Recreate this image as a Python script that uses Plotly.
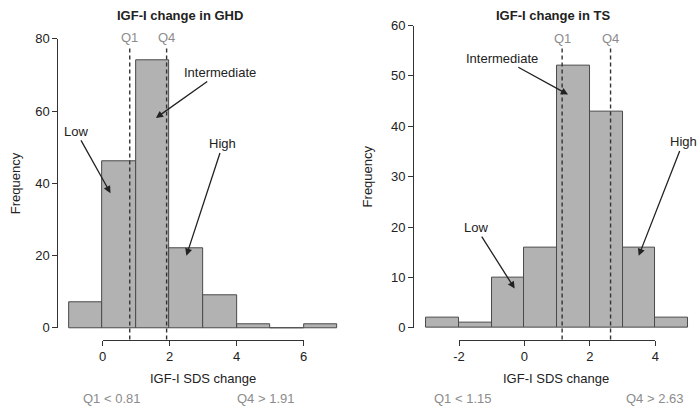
import plotly.graph_objects as go

# histogram data
ghd_edges = [-1, 0, 1, 2, 3, 4, 5, 6, 7]
ghd_counts = [7, 46, 74, 22, 9, 1, 0, 1]
ghd_q1, ghd_q4 = 0.81, 1.91

ts_edges = [-3, -2, -1, 0, 1, 2, 3, 4, 5]
ts_counts = [2, 1, 10, 16, 52, 43, 16, 2]
ts_q1, ts_q4 = 1.15, 2.63

ghd_xticks = [0, 2, 4, 6]
ghd_yticks = [0, 20, 40, 60, 80]
ts_xticks = [-2, 0, 2, 4]
ts_yticks = [0, 10, 20, 30, 40, 50, 60]

W, H = 700, 414
FONT = "Arial, Liberation Sans, Helvetica, sans-serif"
BAR_FILL = "#b2b2b2"
BAR_LINE = "#4a4a4a"
GREY_TXT = "#8c8c8c"


def pxx(p):
    return p / W


def pxy(p):
    return 1 - p / H


def centers(edges):
    return [(a + b) / 2 for a, b in zip(edges[:-1], edges[1:])]


fig = go.Figure()

fig.add_trace(go.Bar(x=centers(ghd_edges), y=ghd_counts, width=1,
                     marker=dict(color=BAR_FILL, line=dict(color=BAR_LINE, width=1)),
                     xaxis="x", yaxis="y", hoverinfo="skip"))
fig.add_trace(go.Bar(x=centers(ts_edges), y=ts_counts, width=1,
                     marker=dict(color=BAR_FILL, line=dict(color=BAR_LINE, width=1)),
                     xaxis="x2", yaxis="y2", hoverinfo="skip"))
# empty traces so the R-style detached axes get drawn
for xa, ya in [("x3", "y3"), ("x4", "y4")]:
    fig.add_trace(go.Scatter(x=[], y=[], xaxis=xa, yaxis=ya))

# pixel scales of the two panels
L0, LS, LY0, LYS = 98, 34, 333, 3.75     # left: x=0 at px 98, 34 px/unit; y=0 at px 333
R0, RS, RY0, RYS = 526, 33.2, 333, 5.23

hidden = dict(visible=False, showgrid=False, zeroline=False, fixedrange=True)
deco = dict(showline=True, linecolor="#333", linewidth=1, ticks="outside", ticklen=5,
            tickcolor="#333", showgrid=False, zeroline=False, anchor="free",
            tickfont=dict(family=FONT, size=13, color="#222"))


def tick_text(vals):
    # R prints a plain hyphen for negatives
    return [str(v) for v in vals]


fig.update_layout(
    width=W, height=H, margin=dict(l=0, r=0, t=0, b=0),
    paper_bgcolor="white", plot_bgcolor="rgba(0,0,0,0)", showlegend=False, bargap=0,
    xaxis=dict(hidden, domain=[pxx(60), pxx(340)],
               range=[(60 - L0) / LS, (340 - L0) / LS]),
    yaxis=dict(hidden, domain=[pxy(350), pxy(20)],
               range=[-(350 - LY0) / LYS, (LY0 - 20) / LYS]),
    xaxis2=dict(hidden, domain=[pxx(418), pxx(698)],
                range=[(418 - R0) / RS, (698 - R0) / RS]),
    yaxis2=dict(hidden, domain=[pxy(350), pxy(10)],
                range=[-(350 - RY0) / RYS, (RY0 - 10) / RYS]),
    xaxis3=dict(deco, domain=[pxx(L0), pxx(L0 + 6 * LS)], range=[0, 6],
                tickvals=ghd_xticks, ticktext=tick_text(ghd_xticks), position=pxy(345)),
    yaxis3=dict(deco, domain=[pxy(LY0), pxy(LY0 - 80 * LYS)], range=[0, 80],
                tickvals=ghd_yticks, ticktext=tick_text(ghd_yticks), position=pxx(52)),
    xaxis4=dict(deco, domain=[pxx(R0 - 2 * RS), pxx(R0 + 4 * RS)], range=[-2, 4],
                tickvals=ts_xticks, ticktext=tick_text(ts_xticks), position=pxy(345)),
    yaxis4=dict(deco, domain=[pxy(RY0), pxy(RY0 - 60 * RYS)], range=[0, 60],
                tickvals=ts_yticks, ticktext=tick_text(ts_yticks), position=pxx(413)),
)

# quartile dashed lines and labels
for xr, yr, q, lo, hi in [("x", "y", ghd_q1, -3.2, 77.3),
                          ("x", "y", ghd_q4, -3.2, 77.3),
                          ("x2", "y2", ts_q1, -2.3, 55.6),
                          ("x2", "y2", ts_q4, -2.3, 55.6)]:
    fig.add_shape(type="line", xref=xr, yref=yr, x0=q, x1=q, y0=lo, y1=hi,
                  line=dict(color="#333", width=1.4, dash="4px,3px"))
for xr, yr, q, name, lab_y in [("x", "y", ghd_q1, "Q1", 80.3), ("x", "y", ghd_q4, "Q4", 80.3),
                               ("x2", "y2", ts_q1, "Q1", 57.4), ("x2", "y2", ts_q4, "Q4", 57.4)]:
    fig.add_annotation(xref=xr, yref=yr, x=q, y=lab_y, text=name, showarrow=False,
                       font=dict(family=FONT, size=13, color=GREY_TXT))

# arrows with labels (text at tail, head at target)
arrows = [
    ("x", "y", "Low", -0.794, 54.4, 0.235, 37.3),
    ("x", "y", "Intermediate", 3.5, 70.7, 1.59, 58.1),
    ("x", "y", "High", 3.59, 50.9, 2.5, 20.0),
    ("x2", "y2", "Intermediate", -0.69, 53.5, 1.33, 46.3),
    ("x2", "y2", "High", 4.85, 36.9, 3.49, 14.3),
    ("x2", "y2", "Low", -1.48, 19.9, -0.30, 7.8),
]
for xr, yr, txt, tx, ty, hx, hy in arrows:
    fig.add_annotation(xref=xr, yref=yr, axref=xr, ayref=yr, x=hx, y=hy, ax=tx, ay=ty,
                       text=txt, showarrow=True, arrowhead=2, arrowsize=1.1,
                       arrowwidth=1.3, arrowcolor="#222", standoff=0,
                       font=dict(family=FONT, size=13, color="#222"))

# titles and axis labels
texts = [
    ("<b>IGF-I change in GHD</b>", 177, 9, 0, "#222"),
    ("<b>IGF-I change in TS</b>", 555, 9, 0, "#222"),
    ("IGF-I SDS change", 200, 385, 0, "#222"),
    ("IGF-I SDS change", 558, 385, 0, "#222"),
    ("Frequency", 9, 183, -90, "#222"),
    ("Frequency", 367, 176, -90, "#222"),
    ("Q1 &lt; 0.81", 107, 406, 0, GREY_TXT),
    ("Q4 &gt; 1.91", 263, 406, 0, GREY_TXT),
    ("Q1 &lt; 1.15", 463, 406, 0, GREY_TXT),
    ("Q4 &gt; 2.63", 658, 406, 0, GREY_TXT),
]
for txt, x, y, ang, col in texts:
    fig.add_annotation(xref="paper", yref="paper", x=pxx(x), y=pxy(y), text=txt,
                       showarrow=False, textangle=ang, xanchor="center", yanchor="middle",
                       font=dict(family=FONT, size=13, color=col))

# drop the default 8px body margin so the 700x414 figure fills the window exactly
fig.write_html("out.html", config={"displayModeBar": False},
               post_script="document.body.style.margin='0';")
